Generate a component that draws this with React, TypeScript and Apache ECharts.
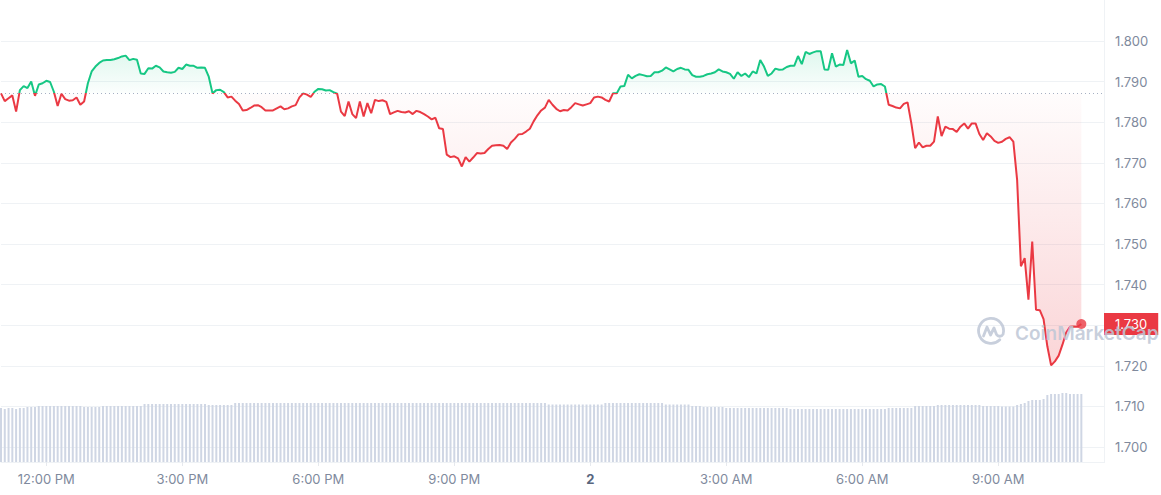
import React, { useEffect, useRef } from "react";
import * as echarts from "echarts";

// ---- data -----------------------------------------------------------------
// Price samples every 5 minutes, first sample at 11:00 AM (minute -60 relative to 12:00 PM)
const START_MINUTE = -60;
const END_MINUTE = 1400; // right edge of the time axis
const STEP_MINUTES = 5;
const OPEN_PRICE = 1.7871;

const prices = [
  1.7871, 1.7852, 1.7859, 1.7866, 1.7826, 1.7879, 1.7889, 1.7884, 1.79, 1.7865,
  1.7893, 1.7896, 1.7902, 1.7899, 1.7875, 1.784, 1.787, 1.7857, 1.7853, 1.7854,
  1.7861, 1.7843, 1.7851, 1.7896, 1.7925, 1.7937, 1.7946, 1.7952, 1.7953, 1.7953,
  1.7955, 1.7958, 1.7962, 1.7964, 1.7953, 1.7956, 1.7954, 1.792, 1.7919, 1.7933,
  1.7932, 1.7939, 1.7935, 1.7925, 1.7923, 1.7922, 1.7924, 1.7934, 1.7931, 1.7942,
  1.7939, 1.7939, 1.7934, 1.7935, 1.7934, 1.7912, 1.7871, 1.7879, 1.788, 1.7874,
  1.7861, 1.7863, 1.7853, 1.7845, 1.7829, 1.783, 1.7835, 1.7841, 1.7842, 1.7837,
  1.7829, 1.7829, 1.7829, 1.7834, 1.7839, 1.7832, 1.7834, 1.7839, 1.7842, 1.7861,
  1.7871, 1.7868, 1.7862, 1.7875, 1.7882, 1.7881, 1.7878, 1.7879, 1.7874, 1.787,
  1.7826, 1.7815, 1.7851, 1.782, 1.781, 1.7851, 1.7814, 1.7847, 1.7822, 1.7855,
  1.7852, 1.7854, 1.785, 1.782, 1.7824, 1.7828,
  1.7825, 1.7824, 1.7827, 1.782, 1.7828, 1.7825, 1.782, 1.7814, 1.7807, 1.7811,
  1.7785, 1.7783, 1.772, 1.7714, 1.7716, 1.7711, 1.7691, 1.7714, 1.7703, 1.7713,
  1.7724, 1.7723, 1.7724, 1.7734, 1.7742, 1.7743, 1.7744, 1.7742, 1.7734, 1.775,
  1.7759, 1.777, 1.7771, 1.7777, 1.7784, 1.7802, 1.7817, 1.7829, 1.7836, 1.7855,
  1.7843, 1.7833, 1.7827, 1.783, 1.7829, 1.7837, 1.7847, 1.7844, 1.7841, 1.7844,
  1.7847, 1.7861, 1.7863, 1.7861, 1.7855, 1.7851, 1.7871, 1.7871, 1.7888, 1.7889,
  1.7917, 1.7908, 1.7914, 1.7918, 1.7916, 1.7913, 1.7914, 1.7923, 1.7923, 1.7927,
  1.7935, 1.793, 1.7925, 1.7931, 1.7934, 1.793, 1.7929, 1.7916, 1.7912, 1.7912,
  1.7914, 1.7918, 1.792, 1.7923, 1.793, 1.7925, 1.7923, 1.7919, 1.7907, 1.7923,
  1.7914, 1.792, 1.7911, 1.7925, 1.792, 1.7953, 1.7937, 1.7914, 1.792, 1.7932,
  1.7929, 1.793, 1.7936, 1.7939, 1.7939, 1.7963, 1.7943, 1.7973, 1.7968, 1.7972,
  1.7975, 1.7975, 1.793, 1.7929, 1.797, 1.7937, 1.7942, 1.7941, 1.7978, 1.7945,
  1.7952, 1.7912, 1.7914, 1.7906, 1.7902, 1.7888, 1.7893, 1.7894, 1.7888, 1.7843,
  1.784, 1.7836, 1.7834,
  1.7845, 1.7849, 1.7797, 1.7736, 1.775, 1.7738, 1.7742, 1.7742, 1.7752, 1.7814,
  1.7766, 1.7789, 1.7784, 1.7783, 1.7776, 1.7789, 1.7797, 1.7784, 1.7797, 1.7797,
  1.7771, 1.7756, 1.7773, 1.7765, 1.7754, 1.7749, 1.7752, 1.7759, 1.7763, 1.7752,
  1.7658, 1.7445, 1.7465, 1.7363, 1.7506, 1.7338, 1.7337, 1.7315, 1.7248, 1.7201,
  1.7211, 1.7225, 1.7252, 1.7282, 1.7296, 1.7297, 1.7296, 1.7303,
];

// Volume per 5-minute bar (relative units)
const volumes = [
  54, 53, 54, 54, 53, 54, 54, 55, 55, 55,
  56, 56, 56, 56, 56, 56, 56, 56, 56, 56, 56, 56,
  55, 55, 55, 55, 55,
  56, 56, 56, 56, 56, 56, 56, 56, 56, 56, 56,
  58, 58, 58, 58, 58, 58, 58, 58, 58, 58, 58, 58, 58, 58, 58, 58, 58,
  57, 57, 57, 57, 57, 57, 57,
  59, 59, 59, 59, 59, 59, 59, 59, 59, 59, 59, 59, 59, 59, 59, 59, 59, 59, 59, 59,
  59, 59, 59, 59, 59, 59, 59, 59, 59, 59, 59, 59, 59, 59, 59, 59, 59, 59, 59,
  59, 59, 59, 59, 59, 59, 59, 59, 59, 59, 59, 59, 59, 59, 59, 59, 59, 59, 59, 59, 59, 59,
  59, 59, 59, 59, 59, 59, 59, 59, 59, 59, 59, 59, 59, 59, 59, 59, 59, 59, 59, 59, 59, 59,
  57.5, 57.5, 57.5, 57.5, 57.5, 57.5, 57.5, 57.5, 57.5, 57.5, 57.5, 57.5, 57.5, 57.5, 57.5,
  59, 59, 59, 59, 59, 59, 59, 59, 59, 59, 59, 59, 59, 59, 59, 59,
  57.5, 57.5, 57.5, 57.5, 57.5, 57.5, 57.5,
  56, 56, 56,
  55, 55, 55, 55, 55, 55,
  54, 54, 54, 54, 54, 54, 54, 54, 54, 54, 54, 54, 54, 54, 54, 54, 54,
  53, 53, 53, 53, 53, 53, 53, 53, 53, 53, 53, 53, 53,
  53, 53, 53, 53, 53, 53, 53, 53, 53, 53, 53, 53, 53,
  54, 54, 54, 54, 54, 54, 54,
  56, 56, 56, 56, 56, 56,
  57, 57, 57, 57, 57, 57, 57, 57, 57, 57, 57, 57,
  56, 56, 56, 56, 56,
  55.5, 55.5, 55.5, 55.5,
  57, 58, 59, 61, 62, 62, 62, 63, 67, 68, 68, 68, 69, 69, 68, 68, 68, 68,
];

// X axis ticks (minutes relative to 12:00 PM) and their labels
const xTickMinutes = [0, 180, 360, 540, 720, 900, 1080, 1260];
const xTickLabels = ["12:00 PM", "3:00 PM", "6:00 PM", "9:00 PM", "2", "3:00 AM", "6:00 AM", "9:00 AM"];

// Price axis
const Y_MIN = 1.7;
const Y_MAX = 1.8;
const Y_STEP = 0.01;

const GREEN = "#16c784";
const RED = "#ea3943";

echarts.graphic.registerShape(
  "cmcLogo",
  echarts.graphic.extendPath(
    "M22.8 22.8 A12.5 12.5 0 1 1 26.1 17.2 M6.5 19 L10 10 L13.5 18 L17 11 L19.5 17.5 Q21.5 20.5 25 18.5",
    {}
  )
);

export default function App() {
  const ref = useRef<HTMLDivElement>(null);

  useEffect(() => {
    const el = ref.current;
    if (!el) return;
    const chart = echarts.init(el, null, { renderer: "svg" });

    // time slots (minutes relative to 12:00 PM) covering the whole axis
    const slots: string[] = [];
    for (let m = START_MINUTE; m <= END_MINUTE; m += STEP_MINUTES) slots.push(String(m));

    const upBase = prices.map(() => OPEN_PRICE);
    const upDiff = prices.map((v) => Math.max(v - OPEN_PRICE, 0));
    const downBase = prices.map((v) => Math.min(v, OPEN_PRICE));
    const downDiff = prices.map((v) => OPEN_PRICE - Math.min(v, OPEN_PRICE));
    const lastIdx = prices.length - 1;
    const lastPrice = prices[lastIdx];
    const lastLabel = lastPrice.toFixed(3);

    const isTick = (index: number) => xTickMinutes.indexOf(Number(slots[index])) >= 0;

    const labelColor = "#808a9d";
    const gridColor = "#eff2f5";

    const xBase = {
      type: "category",
      data: slots,
      boundaryGap: false,
    };

    chart.setOption({
      animation: false,
      textStyle: { fontFamily: "Inter, 'Noto Sans', sans-serif" },
      grid: [
        { left: 1, right: 57, top: 41, height: 406 },
        { left: 1, right: 57, top: 362, height: 100 },
      ],
      xAxis: [
        { ...xBase, gridIndex: 0, show: false },
        {
          ...xBase,
          gridIndex: 1,
          splitLine: { show: false },
          axisLine: { show: true, lineStyle: { color: gridColor } },
          axisTick: {
            show: true,
            length: 4,
            lineStyle: { color: "#e6e9ee" },
            interval: (index: number) => isTick(index),
          },
          axisLabel: {
            interval: (index: number) => isTick(index),
            margin: 10,
            fontSize: 13,
            color: labelColor,
            formatter: (val: string) => {
              const k = xTickMinutes.indexOf(Number(val));
              const s = k >= 0 ? xTickLabels[k] : "";
              return /^\d+$/.test(s) ? "{b|" + s + "}" : s;
            },
            rich: { b: { fontWeight: "bold", color: "#58667e", fontSize: 13 } },
          },
        },
      ],
      yAxis: [
        {
          type: "value",
          gridIndex: 0,
          position: "right",
          min: Y_MIN,
          max: Y_MAX,
          interval: Y_STEP,
          axisLine: { show: false },
          axisTick: { show: false },
          splitLine: { show: true, lineStyle: { color: gridColor } },
          axisLabel: {
            margin: 11,
            fontSize: 13,
            color: labelColor,
            // the tick hidden under the current-price badge is not repeated
            formatter: (v: number) => (v.toFixed(3) === lastLabel ? "" : v.toFixed(3)),
          },
        },
        { type: "value", gridIndex: 1, min: 0, max: 100, show: false },
      ],
      visualMap: {
        type: "piecewise",
        show: false,
        seriesIndex: 5,
        dimension: 1,
        pieces: [
          { gt: OPEN_PRICE, lte: 10, color: GREEN },
          { gte: 0, lte: OPEN_PRICE, color: RED },
        ],
        outOfRange: { color: RED },
      },
      series: [
        {
          type: "bar",
          xAxisIndex: 1,
          yAxisIndex: 1,
          data: volumes,
          barWidth: 2,
          itemStyle: { color: "#cfd6e4" },
          silent: true,
        },
        {
          type: "line",
          stack: "up",
          data: upBase,
          symbol: "none",
          lineStyle: { opacity: 0 },
          silent: true,
        },
        {
          type: "line",
          stack: "up",
          data: upDiff,
          symbol: "none",
          lineStyle: { opacity: 0 },
          silent: true,
          areaStyle: {
            color: new echarts.graphic.LinearGradient(0, 0, 0, 1, [
              { offset: 0, color: "rgba(22,199,132,0.2)" },
              { offset: 1, color: "rgba(22,199,132,0.02)" },
            ]),
          },
        },
        {
          type: "line",
          stack: "down",
          data: downBase,
          symbol: "none",
          lineStyle: { opacity: 0 },
          silent: true,
        },
        {
          type: "line",
          stack: "down",
          data: downDiff,
          symbol: "none",
          lineStyle: { opacity: 0 },
          silent: true,
          areaStyle: {
            color: new echarts.graphic.LinearGradient(0, 0, 0, 1, [
              { offset: 0, color: "rgba(234,57,67,0.02)" },
              { offset: 1, color: "rgba(234,57,67,0.3)" },
            ]),
          },
        },
        {
          type: "line",
          data: prices,
          symbol: "none",
          lineStyle: { width: 2 },
          z: 5,
          silent: true,
        },
        {
          type: "scatter",
          data: [[lastIdx, lastPrice]],
          symbolSize: 10,
          itemStyle: { color: RED },
          z: 6,
          clip: false,
          silent: true,
          markLine: {
            silent: true,
            precision: 4,
            symbol: ["none", "none"],
            data: [
              {
                yAxis: OPEN_PRICE,
                lineStyle: { color: "#a6b0c3", type: [1, 3], width: 1 },
                label: { show: false },
              },
              {
                yAxis: lastPrice,
                lineStyle: { color: "rgba(0,0,0,0)", width: 0 },
                label: {
                  show: true,
                  position: "end",
                  distance: 0,
                  formatter: lastLabel,
                  backgroundColor: RED,
                  color: "#ffffff",
                  fontSize: 13,
                  lineHeight: 14,
                  padding: [4, 11, 4, 11],
                },
              },
            ],
          },
        },
      ],
      graphic: [
        {
          type: "line",
          shape: { x1: 1104.5, y1: 0, x2: 1104.5, y2: 463 },
          style: { stroke: gridColor, lineWidth: 1 },
          silent: true,
        },
        {
          type: "cmcLogo",
          x: 977,
          y: 317,
          style: { fill: "none", stroke: "rgba(190,199,214,0.85)", lineWidth: 2.8, lineCap: "round", lineJoin: "round" },
          z: 100,
          silent: true,
        },
        {
          type: "text",
          x: 1015,
          y: 333,
          z: 100,
          silent: true,
          style: {
            text: "CoinMarketCap",
            fontSize: 19,
            fontWeight: 600,
            fontFamily: "Inter, sans-serif",
            fill: "rgba(190,199,214,0.85)",
            verticalAlign: "middle",
            align: "left",
          },
        },
      ],
    });

    return () => chart.dispose();
  }, []);

  return (
    <div
      ref={ref}
      style={{ position: "absolute", left: 0, top: 0, width: 1161, height: 495 }}
    />
  );
}
